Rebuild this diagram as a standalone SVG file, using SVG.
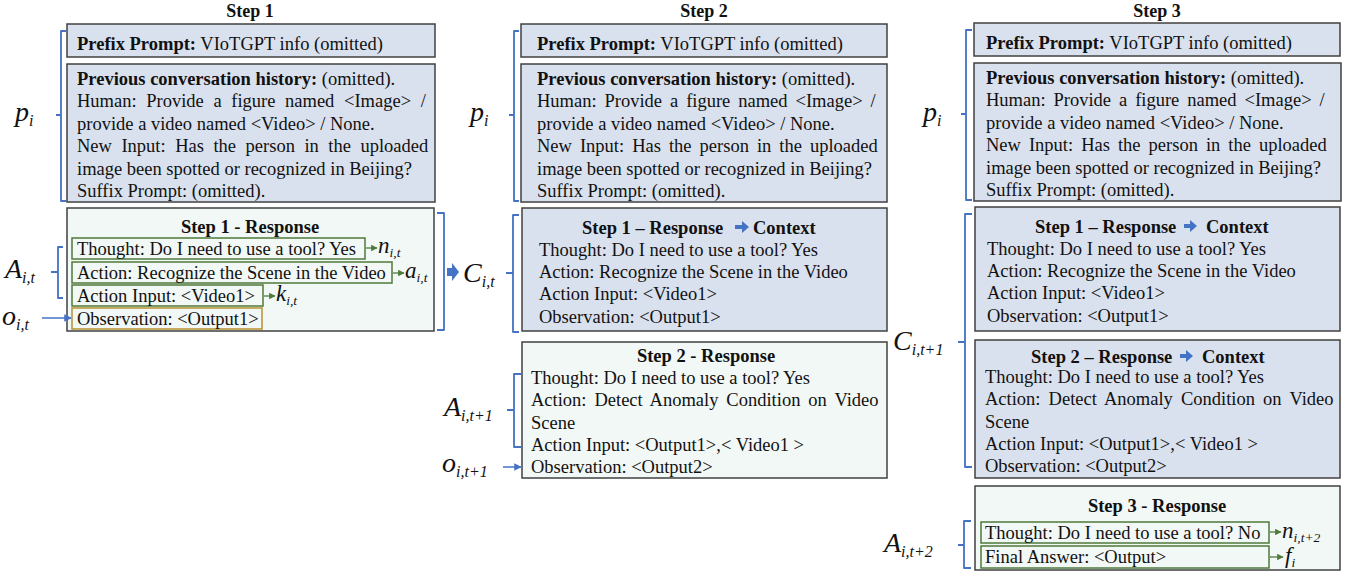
<svg xmlns="http://www.w3.org/2000/svg" width="1364" height="574" viewBox="0 0 1364 574">
<defs>
<style>
text{font-family:"Liberation Serif","Times New Roman",serif;font-size:18.5px;fill:#111}
.b{font-weight:bold}
.t{font-weight:bold;font-size:18.5px}
.h{font-weight:bold;font-size:18px}
.m{font-style:italic;font-size:28px}
.s{font-style:italic;font-size:16px}
.mn{font-style:italic;font-size:23px}
.sn{font-style:italic;font-size:13.5px}
.ctx{fill:#dae1ee;stroke:#404040;stroke-width:1.5}
.rsp{fill:#f2f8f5;stroke:#404040;stroke-width:1.5}
.gb{fill:none;stroke:#4f7a3a;stroke-width:1.5}
.ob{fill:none;stroke:#b8902e;stroke-width:1.5}
.br{fill:none;stroke:#4472c4;stroke-width:1.8;stroke-linejoin:round}
.ga{stroke:#4f7a3a;stroke-width:1.3;fill:none;marker-end:url(#gh)}
.ba{stroke:#4472c4;stroke-width:1.5;fill:none;marker-end:url(#bh)}
.blk{fill:#4472c4}
</style>
<marker id="gh" viewBox="0 0 10 10" refX="9" refY="5" markerWidth="5" markerHeight="5" orient="auto"><path d="M0,0 L10,5 L0,10 z" fill="#4f7a3a"/></marker>
<marker id="bh" viewBox="0 0 10 10" refX="9" refY="5" markerWidth="5" markerHeight="5" orient="auto"><path d="M0,0 L10,5 L0,10 z" fill="#4472c4"/></marker>
</defs>

<g id="titles">
<text class="h" x="250" y="17" text-anchor="middle">Step 1</text>
<text class="h" x="704" y="17" text-anchor="middle">Step 2</text>
<text class="h" x="1157" y="17" text-anchor="middle">Step 3</text>
</g>

<!-- Step 1 -->
<g id="s1-prefix">
<rect class="ctx" x="67" y="24" width="368" height="33"/>
<text x="77" y="50"><tspan class="b">Prefix Prompt:</tspan> VIoTGPT info (omitted)</text>
</g>
<g id="s1-history">
<rect class="ctx" x="67" y="64" width="368" height="138"/>
<text x="77" y="85"><tspan class="b">Previous conversation history:</tspan> (omitted).</text>
<text x="77" y="107" word-spacing="5">Human: Provide a figure named &lt;Image&gt; /</text>
<text x="77" y="130">provide a video named &lt;Video&gt; / None.</text>
<text x="77" y="152" word-spacing="4.9">New Input: Has the person in the uploaded</text>
<text x="77" y="175">image been spotted or recognized in Beijing?</text>
<text x="77" y="197">Suffix Prompt: (omitted).</text>
</g>
<g id="s1-response">
<rect class="rsp" x="67" y="208" width="367" height="123"/>
<text class="t" x="250" y="233" text-anchor="middle">Step 1 - Response</text>
<rect class="gb" x="72" y="238" width="293" height="21"/>
<text x="77" y="255">Thought: Do I need to use a tool? Yes</text>
<rect class="gb" x="72" y="262" width="320" height="21"/>
<text x="77" y="279">Action: Recognize the Scene in the Video</text>
<rect class="gb" x="72" y="285" width="191" height="21"/>
<text x="77" y="302">Action Input: &lt;Video1&gt;</text>
<rect class="ob" x="72" y="308" width="190" height="21"/>
<text x="77" y="325">Observation: &lt;Output1&gt;</text>
</g>
<g id="s1-labels">
<text x="15" y="121"><tspan class="m">p</tspan><tspan class="s" dy="5">i</tspan></text>
<text x="5" y="278"><tspan class="m">A</tspan><tspan class="s" dy="5">i,t</tspan></text>
<text x="2" y="325"><tspan class="m">o</tspan><tspan class="s" dy="5">i,t</tspan></text>
<text x="378" y="253"><tspan class="mn">n</tspan><tspan class="sn" dy="4">i,t</tspan></text>
<text x="405" y="278"><tspan class="mn">a</tspan><tspan class="sn" dy="4">i,t</tspan></text>
<text x="276" y="301"><tspan class="mn">k</tspan><tspan class="sn" dy="4">i,t</tspan></text>
<text x="463" y="282"><tspan class="m">C</tspan><tspan class="s" dy="5">i,t</tspan></text>
</g>

<!-- Step 2 -->
<g id="s2-prefix">
<rect class="ctx" x="521" y="24" width="366" height="33"/>
<text x="537" y="50"><tspan class="b">Prefix Prompt:</tspan> VIoTGPT info (omitted)</text>
</g>
<g id="s2-history">
<rect class="ctx" x="521" y="64" width="366" height="138"/>
<text x="537" y="85"><tspan class="b">Previous conversation history:</tspan> (omitted).</text>
<text x="537" y="107" word-spacing="3.3">Human: Provide a figure named &lt;Image&gt; /</text>
<text x="537" y="130">provide a video named &lt;Video&gt; / None.</text>
<text x="537" y="152" word-spacing="3.4">New Input: Has the person in the uploaded</text>
<text x="537" y="175">image been spotted or recognized in Beijing?</text>
<text x="537" y="197">Suffix Prompt: (omitted).</text>
</g>
<g id="s2-context1">
<rect class="ctx" x="522" y="208" width="365" height="123"/>
<text class="t" x="582" y="234">Step 1 – Response</text>
<path class="blk" d="M735,225 h7 v-4 l7,6 l-7,6 v-4 h-7 z"/>
<text class="t" x="753" y="234">Context</text>
<text x="539" y="256">Thought: Do I need to use a tool? Yes</text>
<text x="539" y="278">Action: Recognize the Scene in the Video</text>
<text x="539" y="300">Action Input: &lt;Video1&gt;</text>
<text x="539" y="323">Observation: &lt;Output1&gt;</text>
</g>
<g id="s2-response">
<rect class="rsp" x="522" y="342" width="365" height="136"/>
<text class="t" x="706" y="362" text-anchor="middle">Step 2 - Response</text>
<text x="531" y="384">Thought: Do I need to use a tool? Yes</text>
<text x="531" y="406" word-spacing="3.3">Action: Detect Anomaly Condition on Video</text>
<text x="531" y="429">Scene</text>
<text x="531" y="451">Action Input: &lt;Output1&gt;,&lt; Video1 &gt;</text>
<text x="531" y="473">Observation: &lt;Output2&gt;</text>
</g>
<g id="s2-labels">
<text x="470" y="121"><tspan class="m">p</tspan><tspan class="s" dy="5">i</tspan></text>
<text x="444" y="416"><tspan class="m">A</tspan><tspan class="s" dy="5">i,t+1</tspan></text>
<text x="442" y="472"><tspan class="m">o</tspan><tspan class="s" dy="5">i,t+1</tspan></text>
</g>

<!-- Step 3 -->
<g id="s3-prefix">
<rect class="ctx" x="974" y="23" width="366" height="33"/>
<text x="986" y="49"><tspan class="b">Prefix Prompt:</tspan> VIoTGPT info (omitted)</text>
</g>
<g id="s3-history">
<rect class="ctx" x="974" y="63" width="367" height="138"/>
<text x="986" y="84"><tspan class="b">Previous conversation history:</tspan> (omitted).</text>
<text x="986" y="106" word-spacing="3.3">Human: Provide a figure named &lt;Image&gt; /</text>
<text x="986" y="129">provide a video named &lt;Video&gt; / None.</text>
<text x="986" y="151" word-spacing="3.4">New Input: Has the person in the uploaded</text>
<text x="986" y="174">image been spotted or recognized in Beijing?</text>
<text x="986" y="196">Suffix Prompt: (omitted).</text>
</g>
<g id="s3-context1">
<rect class="ctx" x="975" y="207" width="365" height="124"/>
<text class="t" x="1035" y="233">Step 1 – Response</text>
<path class="blk" d="M1184,224 h6 v-4 l7,6 l-7,6 v-4 h-6 z"/>
<text class="t" x="1206" y="233">Context</text>
<text x="987" y="255">Thought: Do I need to use a tool? Yes</text>
<text x="987" y="277">Action: Recognize the Scene in the Video</text>
<text x="987" y="299">Action Input: &lt;Video1&gt;</text>
<text x="987" y="322">Observation: &lt;Output1&gt;</text>
</g>
<g id="s3-context2">
<rect class="ctx" x="975" y="340" width="365" height="138"/>
<text class="t" x="1031" y="363">Step 2 – Response</text>
<path class="blk" d="M1180,354 h6 v-4 l7,6 l-7,6 v-4 h-6 z"/>
<text class="t" x="1202" y="363">Context</text>
<text x="985" y="383">Thought: Do I need to use a tool? Yes</text>
<text x="985" y="405" word-spacing="3.5">Action: Detect Anomaly Condition on Video</text>
<text x="985" y="428">Scene</text>
<text x="985" y="450">Action Input: &lt;Output1&gt;,&lt; Video1 &gt;</text>
<text x="985" y="472">Observation: &lt;Output2&gt;</text>
</g>
<g id="s3-response">
<rect class="rsp" x="975" y="486" width="365" height="84"/>
<text class="t" x="1157" y="512" text-anchor="middle">Step 3 - Response</text>
<rect class="gb" x="981" y="522" width="288" height="21"/>
<text x="985" y="539">Thought: Do I need to use a tool? No</text>
<rect class="gb" x="981" y="546" width="288" height="22"/>
<text x="985" y="563">Final Answer: &lt;Output&gt;</text>
</g>
<g id="s3-labels">
<text x="923" y="121"><tspan class="m">p</tspan><tspan class="s" dy="5">i</tspan></text>
<text x="893" y="350"><tspan class="m">C</tspan><tspan class="s" dy="5">i,t+1</tspan></text>
<text x="884" y="552"><tspan class="m">A</tspan><tspan class="s" dy="5">i,t+2</tspan></text>
<text x="1282" y="538"><tspan class="mn">n</tspan><tspan class="sn" dy="4">i,t+2</tspan></text>
<text x="1285" y="563"><tspan class="mn">f</tspan><tspan class="sn" dy="4">i</tspan></text>
</g>

<g id="connectors">
<path class="br" d="M66,31 H61 V115 H56 M61,115 V201 H66"/>
<path class="br" d="M63,247 H58 V272 H51 M58,272 V298 H63"/>
<path class="br" d="M437,213 H444 V330 H437"/>
<path class="br" d="M519,31 H514 V115 H509 M514,115 V201 H519"/>
<path class="br" d="M519,215 H513 V273 H506 M513,273 V332 H519"/>
<path class="br" d="M521,374 H514 V410 H507 M514,410 V447 H521"/>
<path class="br" d="M972,30 H966 V114 H961 M966,114 V200 H972"/>
<path class="br" d="M972,214 H965 V342 H958 M965,342 V467 H972"/>
<path class="br" d="M971,521 H964 V545 H958 M964,545 V568 H971"/>
<path class="blk" d="M447,268 h5 v-5 l7,9 l-7,9 v-5 h-5 z"/>
<path class="ba" d="M42,318 H71"/>
<path class="ba" d="M503,467 H521"/>
<path class="ga" d="M366,248 H377"/>
<path class="ga" d="M393,273 H404"/>
<path class="ga" d="M264,296 H275"/>
<path class="ga" d="M1270,532 H1281"/>
<path class="ga" d="M1270,557 H1283"/>
</g>
</svg>
